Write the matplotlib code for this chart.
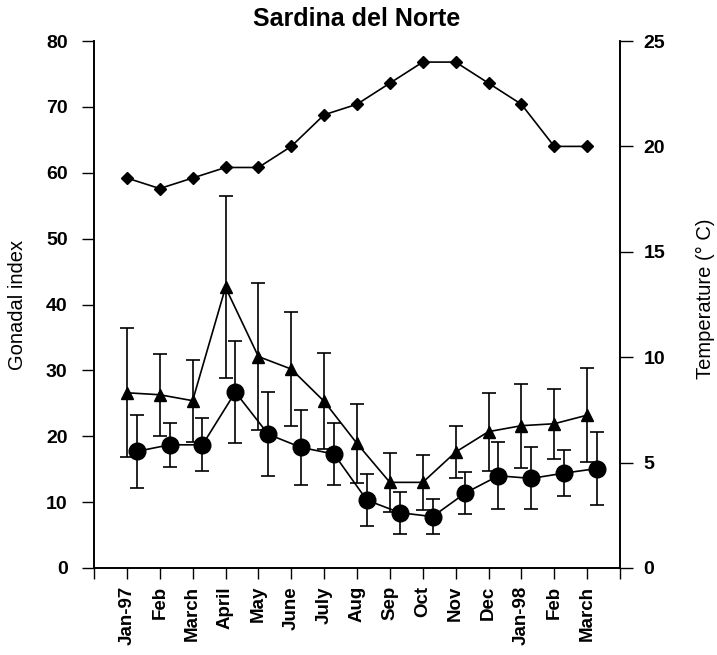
import matplotlib
matplotlib.use("Agg")
import matplotlib.pyplot as plt
import numpy as np

plt.rcParams['font.family'] = ['Liberation Sans', 'DejaVu Sans']

months = ["Jan-97", "Feb", "March", "April", "May", "June", "July", "Aug",
          "Sep", "Oct", "Nov", "Dec", "Jan-98", "Feb", "March"]

tri_mean = [26.6, 26.3, 25.4, 42.6, 32.1, 30.2, 25.3, 18.9, 13.0, 13.0, 17.6, 20.7, 21.6, 21.9, 23.2]
tri_err = [9.8, 6.2, 6.2, 13.8, 11.1, 8.7, 7.3, 6.0, 4.5, 4.2, 4.0, 5.9, 6.4, 5.3, 7.1]

circ_mean = [17.7, 18.7, 18.7, 26.7, 20.3, 18.3, 17.3, 10.3, 8.4, 7.8, 11.4, 14.0, 13.6, 14.4, 15.1]
circ_err = [5.6, 3.3, 4.0, 7.7, 6.4, 5.7, 4.7, 4.0, 3.2, 2.7, 3.2, 5.1, 4.7, 3.5, 5.6]

temperature = [18.5, 18.0, 18.5, 19.0, 19.0, 20.0, 21.5, 22.0, 23.0, 24.0, 24.0, 23.0, 22.0, 20.0, 20.0]

x = np.arange(1, len(months) + 1)

fig = plt.figure(figsize=(7.17, 6.55), dpi=100)
ax = fig.add_axes([94/717, 1 - 568/655, (620 - 94)/717, (568 - 41)/655])
ax2 = ax.twinx()

ax.errorbar(x, tri_mean, yerr=tri_err, fmt='-^', color='black', ms=8.5, lw=1.2,
            elinewidth=1.2, capsize=5, capthick=1.2, zorder=3)
ax.errorbar(x + 0.3, circ_mean, yerr=circ_err, fmt='-o', color='black', ms=12, lw=1.2,
            elinewidth=1.2, capsize=5, capthick=1.2, zorder=3)
ax2.plot(x, temperature, '-D', color='black', ms=6, lw=1.2)

ax.set_xlim(0, 16)
ax.set_ylim(0, 80)
ax2.set_ylim(0, 25)

ax.set_xticks(np.arange(0, 17), minor=True)
ax.set_xticks(x)
ax.set_xticklabels(months, rotation=90, fontsize=13.5, fontweight='bold')
ax.tick_params(axis='x', which='both', direction='out', length=8, width=1)
ax.tick_params(axis='x', which='major', pad=5)

ax.set_yticks(np.arange(0, 81, 10))
ax.tick_params(axis='y', direction='out', length=9, width=1, pad=10, labelsize=14)
for t in ax.get_yticklabels():
    t.set_fontweight('bold')
ax2.set_yticks(np.arange(0, 26, 5))
ax2.tick_params(axis='y', direction='out', length=9, width=1, pad=8, labelsize=14)
for t in ax2.get_yticklabels():
    t.set_fontweight('bold')

for a in (ax, ax2):
    a.spines['top'].set_visible(False)
    for s in ('left', 'right', 'bottom'):
        a.spines[s].set_linewidth(1.2)

ax.set_ylabel("Gonadal index", fontsize=14.5)
ax.yaxis.set_label_coords(-0.127, 0.5)
ax2.set_ylabel("Temperature (° C)", fontsize=14.5)
ax2.yaxis.set_label_coords(1.145, 0.51)
ax.set_title("Sardina del Norte", fontsize=18, fontweight='bold', pad=11)

fig.savefig("out.png", dpi=100)
